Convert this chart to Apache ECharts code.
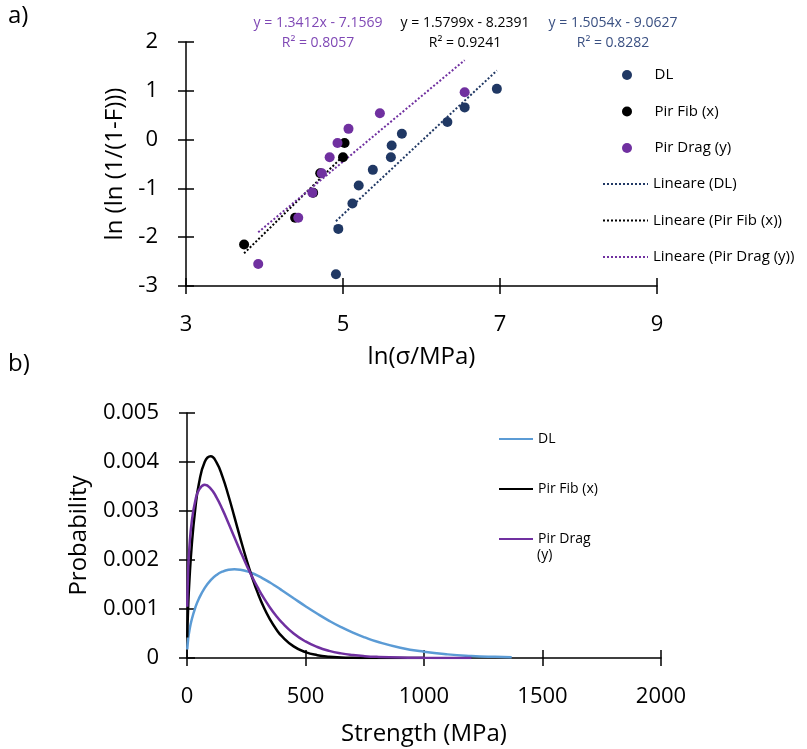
<!DOCTYPE html>
<html>
<head>
<meta charset="utf-8">
<script src="https://cdn.jsdelivr.net/npm/echarts@6/dist/echarts.min.js"></script>
<style>html,body{margin:0;padding:0;background:#fff;}#c{width:807px;height:749px;}</style>
</head>
<body>
<div id="c"></div>
<script>
// ---- a) Weibull plot data ----
const dlX   = [6.96, 6.55, 6.33, 5.75, 5.62, 5.61, 5.38, 5.20, 5.12, 4.94, 4.91];
const dlY   = [1.04, 0.66, 0.36, 0.12, -0.12, -0.36, -0.62, -0.94, -1.31, -1.83, -2.76];
const fibX  = [5.02, 5.00, 4.71, 4.62, 4.39, 3.74];
const fibY  = [-0.07, -0.36, -0.69, -1.09, -1.60, -2.15];
const dragX = [6.55, 5.47, 5.07, 4.93, 4.83, 4.73, 4.61, 4.43, 3.92];
const dragY = [0.97, 0.54, 0.22, -0.07, -0.36, -0.69, -1.09, -1.60, -2.55];
// trendline coefficients shown on the chart [slope, intercept, R2]
const dlFit   = [1.5054, -9.0627, 0.8282];
const fibFit  = [1.5799, -8.2391, 0.9241];
const dragFit = [1.3412, -7.1569, 0.8057];
const xTicksA = [3, 5, 7, 9];
const yTicksA = [-3, -2, -1, 0, 1, 2];

// ---- b) probability density data ----
const strengthX = [1,5,10,20,35,50,75,100,125,150,175,200,225,250,275,300,325,350,375,400,450,500,550,600,650,700,750,800,900,1000,1100,1200,1300,1370];
const dlPdf   = [0.000175,0.000393,0.000557,0.000785,0.001027,0.001209,0.001432,0.001589,0.001696,0.001764,
                 0.001801,0.001812,0.001802,0.001773,0.001730,0.001675,0.001611,0.001540,0.001463,0.001383,
                 0.001219,0.001056,0.000902,0.000759,0.000630,0.000517,0.000420,0.000337,0.000211,0.000128,
                 0.000074,0.000042,0.000023,0.000015];
const fibPdf  = [0.000417,0.001058,0.001570,0.002300,0.003050,0.003550,0.004005,0.004116,0.003987,0.003697,
                 0.003311,0.002880,0.002442,0.002024,0.001643,0.001308,0.001024,0.000788,0.000597,0.000445,
                 0.000237,0.000120,0.000058,0.000026,0.000012,0.000005,0.000002,0.000001,0,0];
const dragPdf = [0.001045,0.001798,0.002255,0.002782,0.003208,0.003425,0.003534,0.003458,0.003273,0.003028,
                 0.002751,0.002464,0.002180,0.001908,0.001655,0.001424,0.001215,0.001031,0.000868,0.000726,
                 0.000501,0.000338,0.000225,0.000146,0.000094,0.000060,0.000037,0.000023,0.000008,0.000003,
                 0.000001,0.0000003];

const FONT = 'Open Sans';
const cDL = '#203864', cFib = '#000000', cDrag = '#7030A0', cDLb = '#5B9BD5';

function pairs(xs, ys) { return ys.map((y, i) => [xs[i], y]); }
function fitLine(xs, fit) {
  const lo = Math.min(...xs), hi = Math.max(...xs);
  return [[lo, fit[0] * lo + fit[1]], [hi, fit[0] * hi + fit[1]]];
}
function fmtEq(fit) {
  return 'y = ' + fit[0].toFixed(4) + 'x - ' + Math.abs(fit[1]).toFixed(4);
}

const axisLineStyle = { color: '#000', width: 1.5 };
function mainAxis(opts) {
  return Object.assign({
    type: 'value',
    axisLine: { show: true, onZero: false, lineStyle: axisLineStyle },
    axisTick: { show: true, length: 8, lineStyle: { color: '#000', width: 1.5 } },
    axisLabel: { margin: 28, fontSize: 22, color: '#000', fontFamily: FONT, formatter: v => String(v) },
    splitLine: { show: false },
    nameLocation: 'middle',
    nameTextStyle: { fontSize: 24, color: '#000', fontFamily: FONT }
  }, opts);
}
function tickAxis(opts) {
  return Object.assign({
    type: 'value',
    axisLine: { show: false, onZero: false },
    axisTick: { show: true, inside: true, length: 8, lineStyle: { color: '#000', width: 1.5 } },
    axisLabel: { show: false },
    splitLine: { show: false }
  }, opts);
}

const chart = echarts.init(document.getElementById('c'), null, { renderer: 'canvas' });
const option = {
  animation: false,
  backgroundColor: '#fff',
  grid: [
    { left: 186, top: 42, width: 471, height: 244 },
    { left: 187, top: 413, width: 474, height: 245 }
  ],
  xAxis: [
    mainAxis({ gridIndex: 0, min: xTicksA[0], max: xTicksA[xTicksA.length - 1], interval: 2, name: 'ln(σ/MPa)', nameGap: 59 }),
    tickAxis({ gridIndex: 0, position: 'bottom', min: xTicksA[0], max: xTicksA[xTicksA.length - 1], interval: 2 }),
    mainAxis({ gridIndex: 1, min: 0, max: 2000, interval: 500, name: 'Strength (MPa)', nameGap: 64 }),
    tickAxis({ gridIndex: 1, position: 'bottom', min: 0, max: 2000, interval: 500 })
  ],
  yAxis: [
    mainAxis({ gridIndex: 0, min: yTicksA[0], max: yTicksA[yTicksA.length - 1], interval: 1, name: 'ln (ln (1/(1-F)))', nameGap: 52 }),
    tickAxis({ gridIndex: 0, position: 'left', min: yTicksA[0], max: yTicksA[yTicksA.length - 1], interval: 1 }),
    mainAxis({ gridIndex: 1, min: 0, max: 0.005, interval: 0.001, name: 'Probability', nameGap: 96,
      axisLabel: { margin: 28, fontSize: 22, color: '#000', fontFamily: FONT, formatter: v => v === 0 ? '0' : v.toFixed(3) } }),
    tickAxis({ gridIndex: 1, position: 'left', min: 0, max: 0.005, interval: 0.001 })
  ],
  legend: [
    {
      orient: 'vertical', left: 617, top: 60, itemWidth: 45, itemHeight: 10, itemGap: 16.5,
      textStyle: { fontSize: 15, color: '#000', fontFamily: FONT, lineHeight: 20 },
      data: ['DL', 'Pir Fib (x)', 'Pir Drag (y)']
    },
    {
      orient: 'vertical', left: 597, top: 169, itemWidth: 45, itemHeight: 10, itemGap: 16.5,
      itemStyle: { opacity: 0 },
      textStyle: { fontSize: 15, color: '#000', fontFamily: FONT, lineHeight: 20 },
      data: ['Lineare (DL)', 'Lineare (Pir Fib (x))', 'Lineare (Pir Drag (y))']
    },
    {
      orient: 'vertical', left: 493, top: 424, itemWidth: 34, itemHeight: 3, itemGap: 30,
      itemStyle: { opacity: 0 },
      textStyle: { fontSize: 14, color: '#000', fontFamily: FONT, lineHeight: 20 },
      data: ['DL ', 'Pir Fib (x) ', 'Pir Drag (y) ']
    }
  ],
  series: [
    { name: 'Lineare (DL)', type: 'line', xAxisIndex: 0, yAxisIndex: 0, data: fitLine(dlX, dlFit), symbol: 'none',
      lineStyle: { color: cDL, width: 2, type: [2, 2] }, itemStyle: { color: cDL }, z: 2 },
    { name: 'Lineare (Pir Fib (x))', type: 'line', xAxisIndex: 0, yAxisIndex: 0, data: fitLine(fibX, fibFit), symbol: 'none',
      lineStyle: { color: cFib, width: 2, type: [2, 2] }, itemStyle: { color: cFib }, z: 2 },
    { name: 'Lineare (Pir Drag (y))', type: 'line', xAxisIndex: 0, yAxisIndex: 0, data: fitLine(dragX, dragFit), symbol: 'none',
      lineStyle: { color: cDrag, width: 2, type: [2, 2] }, itemStyle: { color: cDrag }, z: 2 },
    { name: 'DL', type: 'scatter', xAxisIndex: 0, yAxisIndex: 0, data: pairs(dlX, dlY), symbolSize: 10, itemStyle: { color: cDL, opacity: 1 }, z: 3 },
    { name: 'Pir Fib (x)', type: 'scatter', xAxisIndex: 0, yAxisIndex: 0, data: pairs(fibX, fibY), symbolSize: 10, itemStyle: { color: cFib, opacity: 1 }, z: 3 },
    { name: 'Pir Drag (y)', type: 'scatter', xAxisIndex: 0, yAxisIndex: 0, data: pairs(dragX, dragY), symbolSize: 10, itemStyle: { color: cDrag, opacity: 1 }, z: 3 },

    { name: 'DL ', type: 'line', xAxisIndex: 2, yAxisIndex: 2, data: pairs(strengthX, dlPdf), symbol: 'none', smooth: 0.5,
      lineStyle: { color: cDLb, width: 2.5 }, itemStyle: { color: cDLb } },
    { name: 'Pir Fib (x) ', type: 'line', xAxisIndex: 2, yAxisIndex: 2, data: pairs(strengthX, fibPdf), symbol: 'none', smooth: 0.5,
      lineStyle: { color: cFib, width: 2.5 }, itemStyle: { color: cFib } },
    { name: 'Pir Drag (y) ', type: 'line', xAxisIndex: 2, yAxisIndex: 2, data: pairs(strengthX, dragPdf), symbol: 'none', smooth: 0.5,
      lineStyle: { color: cDrag, width: 2.5 }, itemStyle: { color: cDrag } }
  ],
  graphic: [
    { type: 'text', left: 8, top: 4, style: { text: 'a)', fontSize: 24, fill: '#000', fontFamily: FONT } },
    { type: 'text', left: 8, top: 352, style: { text: 'b)', fontSize: 24, fill: '#000', fontFamily: FONT } },
    { type: 'text', x: 318, y: 23, style: { text: fmtEq(dragFit), fontSize: 14, fill: '#7F48B5', fontFamily: FONT, align: 'center', verticalAlign: 'middle' } },
    { type: 'text', x: 318, y: 43, style: { text: 'R² = ' + dragFit[2].toFixed(4), fontSize: 14, fill: '#7F48B5', fontFamily: FONT, align: 'center', verticalAlign: 'middle' } },
    { type: 'text', x: 465, y: 23, style: { text: fmtEq(fibFit), fontSize: 14, fill: '#000', fontFamily: FONT, align: 'center', verticalAlign: 'middle' } },
    { type: 'text', x: 465, y: 43, style: { text: 'R² = ' + fibFit[2].toFixed(4), fontSize: 14, fill: '#000', fontFamily: FONT, align: 'center', verticalAlign: 'middle' } },
    { type: 'text', x: 613, y: 23, style: { text: fmtEq(dlFit), fontSize: 14, fill: '#3A5082', fontFamily: FONT, align: 'center', verticalAlign: 'middle' } },
    { type: 'text', x: 613, y: 43, style: { text: 'R² = ' + dlFit[2].toFixed(4), fontSize: 14, fill: '#3A5082', fontFamily: FONT, align: 'center', verticalAlign: 'middle' } }
  ]
};
// wrap the long bottom legend label like the reference
option.legend[2].formatter = name => name === 'Pir Drag (y) ' ? 'Pir Drag' : name.trim();
option.graphic.push({ type: 'text', left: 537, top: 548, style: { text: '(y)', fontSize: 14, fill: '#000', fontFamily: FONT } });
chart.setOption(option);
</script>
</body>
</html>
